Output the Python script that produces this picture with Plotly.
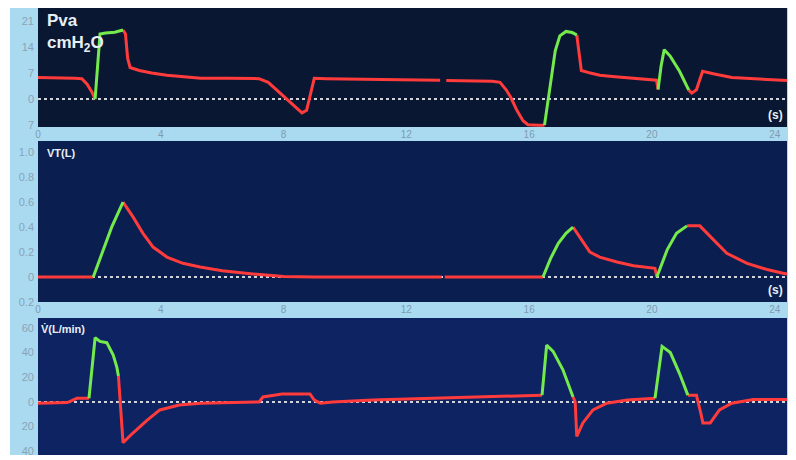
import plotly.graph_objects as go

# ---------------- data (time in s) ----------------
# Pva (cmH2O): red = expiration, green = inspiration; None = break
pva_red_t = [0, 0.6, 1.2, 1.43, 1.6, 1.75, 1.86, None,
             2.77, 2.85, 2.92, 3.0, 3.3, 3.7, 4.2, 5.3, 6.2, 7.2, 7.5, 7.9, 8.3, 8.6, 8.75, 8.9, 9.0, 9.4, 10.5, 11.8, 13.1, None,
             13.3, 14.0, 14.8, 15.05, 15.25, 15.4, 15.6, 15.8, 15.96, 16.3, 16.5, None,
             17.55, 17.62, 17.7, 18.0, 18.3, 18.8, 19.4, 20.15, 20.2, None,
             21.2, 21.3, 21.45, 21.65, 22.0, 22.6, 23.5, 24.4]
pva_red_v = [5.8, 5.8, 5.6, 5.5, 4.0, 2.0, 0.0, None,
             18.6, 17.5, 11, 8.5, 7.7, 7.0, 6.4, 5.6, 5.6, 5.5, 4.5, 1.5, -1.5, -3.7, -3.0, 2.0, 5.6, 5.5, 5.3, 5.2, 5.1, None,
             5.0, 4.9, 4.8, 4.5, 2.5, 0.5, -3.0, -5.8, -6.9, -7.0, -7.0, None,
             17.3, 12, 7.7, 7.0, 6.4, 6.0, 5.6, 5.1, 2.6, None,
             2.4, 1.6, 2.5, 7.5, 6.8, 5.8, 5.4, 5.0]
pva_green_t = [1.86, 1.95, 2.02, 2.2, 2.5, 2.77, None,
               16.5, 16.7, 16.85, 17.0, 17.2, 17.4, 17.55, None,
               20.2, 20.3, 20.4, 20.6, 20.9, 21.2]
pva_green_v = [0, 10, 17.5, 17.8, 18.0, 18.6, None,
               -7, 4.2, 13, 17, 18.2, 17.9, 17.3, None,
               2.6, 9, 13.3, 11.5, 7.5, 2.4]

# VT (L)
vt_red_t = [0, 1.8, None,
            2.77, 3.1, 3.42, 3.75, 4.2, 4.72, 5.28, 6.0, 7.0, 8.0, 9.0, 13.15, None,
            13.25, 16.45, None,
            17.43, 17.65, 17.98, 18.3, 18.86, 19.4, 20.1, 20.16, None,
            21.14, 21.56, 22.0, 22.44, 23.1, 23.75, 24.27, 24.4]
vt_red_v = [0, 0, None,
            0.6, 0.48, 0.35, 0.24, 0.16, 0.11, 0.08, 0.05, 0.025, 0.005, 0, 0, None,
            0, 0, None,
            0.4, 0.32, 0.2, 0.16, 0.12, 0.09, 0.07, 0.0, None,
            0.41, 0.41, 0.3, 0.19, 0.11, 0.06, 0.03, 0.025]
vt_green_t = [1.8, 2.1, 2.4, 2.77, None,
              16.45, 16.7, 16.95, 17.2, 17.43, None,
              20.16, 20.5, 20.8, 21.14]
vt_green_v = [0, 0.2, 0.4, 0.6, None,
              0, 0.15, 0.27, 0.35, 0.4, None,
              0, 0.22, 0.35, 0.41]

# Flow (L/min)
flow_red_t = [0, 0.95, 1.1, 1.27, 1.66, None,
              2.62, 2.68, 2.77, 3.1, 3.55, 3.97, 4.6, 5.3, 7.2, 7.33, 7.95, 8.86, 9.0, 9.2, 9.6, 10.9, 13.1, 14.8, 16.42, None,
              17.43, 17.5, 17.55, 17.75, 18.08, 18.53, 19.2, 20.05, 20.1, None,
              21.17, 21.45, 21.6, 21.66, 21.9, 22.2, 22.6, 23.3, 24.4]
flow_red_v = [-1, -0.5, 1, 3, 3, None,
              21, 0, -33, -25, -15, -6.5, -2.5, -1, 0, 4, 6.5, 6.5, 1.5, -1, 0, 1.5, 3, 4, 5.5, None,
              4, 0, -28, -17, -6.5, -1, 1.6, 3, 3, None,
              5.5, 5.5, -10, -17, -17, -6.5, -1, 2, 2]
flow_green_t = [1.66, 1.86, 2.02, 2.24, 2.45, 2.57, 2.62, None,
                16.42, 16.57, 16.78, 17.1, 17.43, None,
                20.1, 20.33, 20.6, 20.9, 21.17]
flow_green_v = [3, 52, 49, 48, 38, 28, 21, None,
                5.5, 46, 41, 26, 4, None,
                3, 45, 40, 23, 5.5]

x_ticks = [0, 4, 8, 12, 16, 20, 24]
pva_ticks = [-7, 0, 7, 14, 21]
pva_ticktext = ["7", "0", "7", "14", "21"]
vt_ticks = [-0.2, 0, 0.2, 0.4, 0.6, 0.8, 1.0]
vt_ticktext = ["0.2", "0", "0.2", "0.4", "0.6", "0.8", "1.0"]
flow_ticks = [-40, -20, 0, 20, 40, 60]
flow_ticktext = ["40", "20", "0", "20", "40", "60"]

# ---------------- styling ----------------
RED = "#ff3b3b"
GREEN = "#74ea4c"
LW = 3
OFF = 8                      # page body margin in the browser
W, H = 796 - OFF, 460 - OFF  # figure size
ML, MR, MT, MB = 38 - OFF, 9, 0, 5
PW, PH = W - ML - MR, H - MT - MB


def py2dom(top, bottom):
    top -= OFF
    bottom -= OFF
    return [max(0.0, (H - MB - bottom) / PH), min(1.0, (H - MB - top) / PH)]


fig = go.Figure()
panels = [
    ("", pva_red_t, pva_red_v, pva_green_t, pva_green_v),
    ("2", vt_red_t, vt_red_v, vt_green_t, vt_green_v),
    ("3", flow_red_t, flow_red_v, flow_green_t, flow_green_v),
]
for suf, rt, rv, gt, gv in panels:
    fig.add_trace(go.Scatter(x=rt, y=rv, mode="lines", line=dict(color=RED, width=LW),
                             xaxis="x" + suf, yaxis="y" + suf, hoverinfo="skip", showlegend=False))
    fig.add_trace(go.Scatter(x=gt, y=gv, mode="lines", line=dict(color=GREEN, width=LW),
                             xaxis="x" + suf, yaxis="y" + suf, hoverinfo="skip", showlegend=False))

xtickfont = dict(family="Liberation Sans, Arial", size=10, color="#7f9bb0")
ytickfont = dict(family="Liberation Sans, Arial", size=11, color="#8aa3b8")
xcommon = dict(range=[0, 24.4], showgrid=False, zeroline=False, showline=False, ticks="",
               tickvals=x_ticks, tickfont=xtickfont, fixedrange=True, automargin=False)
ycommon = dict(showgrid=False, zeroline=False, showline=False, ticks="", tickfont=ytickfont,
               fixedrange=True, automargin=False, ticklabelstandoff=3)

fig.update_layout(
    width=W, height=H,
    margin=dict(l=ML, r=MR, t=MT, b=MB, autoexpand=False),
    paper_bgcolor="white",
    plot_bgcolor="rgba(0,0,0,0)",
    xaxis=dict(xcommon, anchor="y"),
    xaxis2=dict(xcommon, anchor="y2"),
    xaxis3=dict(xcommon, anchor="y3", showticklabels=False),
    yaxis=dict(ycommon, domain=py2dom(7, 127), range=[-7.5, 24.5],
               tickvals=pva_ticks, ticktext=pva_ticktext),
    yaxis2=dict(ycommon, domain=py2dom(141, 302), range=[-0.2, 1.09],
                tickvals=vt_ticks, ticktext=vt_ticktext),
    yaxis3=dict(ycommon, domain=py2dom(318, 455), range=[-43, 68],
                tickvals=flow_ticks, ticktext=flow_ticktext),
)

shapes = [
    # light-blue frame of the monitor
    dict(type="rect", xref="paper", yref="paper",
         x0=(10 - 38) / PW, x1=(791 - 38) / PW, y0=0, y1=1.0,
         fillcolor="#a9daf0", line=dict(width=0), layer="below"),
]
bgs = ["#0a1733", "#0b1e50", "#0d2362"]
for suf, bg in zip(["", "2", "3"], bgs):
    shapes.append(dict(type="rect", xref="x" + suf + " domain", yref="y" + suf + " domain",
                       x0=0, x1=1, y0=0, y1=1, fillcolor=bg, line=dict(width=0), layer="below"))
    shapes.append(dict(type="line", xref="x" + suf + " domain", yref="y" + suf,
                       x0=0, x1=1, y0=0, y1=0, line=dict(color="#d0d4da", width=2, dash="dot"),
                       layer="below"))
fig.update_layout(shapes=shapes)

lab = dict(family="Liberation Sans, Arial", color="#e8eef5")
fig.add_annotation(text="<b>Pva<br>cmH<sub>2</sub>O</b>", xref="x domain", yref="y domain",
                   x=0.01, y=0.99, xanchor="left", yanchor="top", showarrow=False, align="left",
                   font=dict(lab, size=17))
fig.add_annotation(text="<b>VT(L)</b>", xref="x2 domain", yref="y2 domain",
                   x=0.01, y=0.975, xanchor="left", yanchor="top", showarrow=False,
                   font=dict(lab, size=11))
fig.add_annotation(text="<b>V\u0307(L/min)</b>", xref="x3 domain", yref="y3 domain",
                   x=0.002, y=0.975, xanchor="left", yanchor="top", showarrow=False,
                   font=dict(lab, size=11))
for suf, yy in [("", 0.1), ("2", 0.075)]:
    fig.add_annotation(text="<b>(s)</b>", xref="x" + suf + " domain", yref="y" + suf + " domain",
                       x=0.984, y=yy, xanchor="center", yanchor="middle", showarrow=False,
                       font=dict(lab, size=12))

fig.write_html("out.html")
